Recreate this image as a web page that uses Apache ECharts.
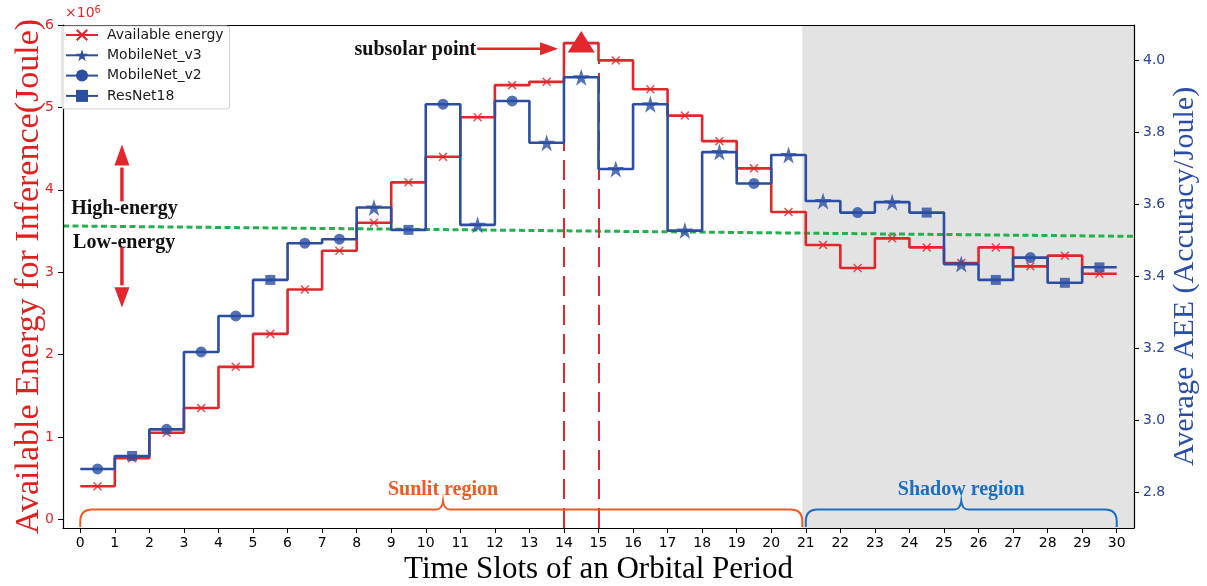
<!DOCTYPE html>
<html><head><meta charset="utf-8">
<script src="https://cdn.jsdelivr.net/npm/echarts@6/dist/echarts.min.js"></script>
<style>html,body{margin:0;padding:0;background:#fff}#c{width:1207px;height:586px}</style>
</head><body><div id="c"></div>
<script>
// ---------------- data ----------------
const slots = [0,1,2,3,4,5,6,7,8,9,10,11,12,13,14,15,16,17,18,19,20,21,22,23,24,25,26,27,28,29];
const xTicks = [0,1,2,3,4,5,6,7,8,9,10,11,12,13,14,15,16,17,18,19,20,21,22,23,24,25,26,27,28,29,30];
const energyTicks = [0,1,2,3,4,5,6];
const aeeTicks = [2.8,3.0,3.2,3.4,3.6,3.8,4.0];
// available energy per slot (x10^6 Joule)
const availableEnergy = [0.40,0.74,1.05,1.35,1.85,2.25,2.79,3.26,3.60,4.09,4.40,4.88,5.27,5.31,5.78,5.57,5.22,4.90,4.59,4.26,3.73,3.33,3.05,3.41,3.30,3.11,3.30,3.07,3.20,2.98];
// average AEE of the chosen model per slot
const averageAEE = [2.864,2.900,2.974,3.189,3.289,3.389,3.491,3.502,3.590,3.528,3.877,3.542,3.886,3.770,3.952,3.697,3.877,3.526,3.744,3.657,3.736,3.608,3.576,3.605,3.576,3.433,3.389,3.451,3.381,3.424];
const chosenModel = ['MobileNet_v2','ResNet18','MobileNet_v2','MobileNet_v2','MobileNet_v2','ResNet18','MobileNet_v2','MobileNet_v2','MobileNet_v3','ResNet18',
  'MobileNet_v2','MobileNet_v3','MobileNet_v2','MobileNet_v3','MobileNet_v3','MobileNet_v3','MobileNet_v3','MobileNet_v3','MobileNet_v3','MobileNet_v2',
  'MobileNet_v3','MobileNet_v3','MobileNet_v2','MobileNet_v3','ResNet18','MobileNet_v3','ResNet18','MobileNet_v2','ResNet18','ResNet18'];
const thresholdAEE = [[-0.5,3.539],[30.5,3.510]];
const regionNames = ['Sunlit region','Shadow region'];
const regionSpans = [[0,20.9,10.5],[21,30,25.5]];
const shadowSpan = [[20.9,30.5]];
const subsolarSlot = 14;

// ---------------- styles ----------------
const RED = '#e2262b', BLUE = '#2b4ea3', GREEN = '#22b14c';
const SERIF = '"Liberation Serif","Times New Roman",serif';
const SANS = '"DejaVu Sans",sans-serif';
const STAR = 'path://M50,0L61.2,34.5L97.6,34.5L68.2,55.9L79.4,90.5L50,69.1L20.6,90.5L31.8,55.9L2.4,34.5L38.8,34.5Z';
const CROSS = 'path://M0,1.2L1.2,0L5,3.8L8.8,0L10,1.2L6.2,5L10,8.8L8.8,10L5,6.2L1.2,10L0,8.8L3.8,5Z';
const models = ['MobileNet_v3','MobileNet_v2','ResNet18'];
const modelSymbol = {'MobileNet_v3':[STAR,17],'MobileNet_v2':['circle',11],'ResNet18':['rect',10]};
const regionColors = ['#f05a24','#1b6ec2'];
const Y0MIN = -0.106, Y0MAX = 6, Y1MIN = 2.7, Y1MAX = 4.097;

function stepData(vals){
  const d = vals.map((v,i)=>[slots[i],v]);
  d.push([slots[slots.length-1]+1, vals[vals.length-1]]);
  return d;
}

const chart = echarts.init(document.getElementById('c'));

const series = [];
// shadow region shading
series.push({type:'custom', name:'_shade', silent:true, z:1, data:shadowSpan, encode:{x:[0,1]},
  renderItem:(params, api)=>{
    const cs = params.coordSys;
    const xa = api.coord([api.value(0),0])[0], xb = api.coord([api.value(1),0])[0];
    return {type:'rect', shape:{x:xa, y:cs.y, width:xb-xa, height:cs.height}, style:{fill:'#e3e3e3'}};
  }});
// threshold line
series.push({type:'line', name:'_thr', yAxisIndex:1, data:thresholdAEE, symbol:'none', silent:true, z:3,
  lineStyle:{color:GREEN, width:3, type:[6,3.5]}});
// available energy step
series.push({type:'line', name:'_energy', data:stepData(availableEnergy), step:'end', symbol:'none', silent:true, z:4,
  lineStyle:{color:RED, width:2.6},
  markLine:{silent:true, symbol:['none','none'], label:{show:false}, lineStyle:{color:RED, width:2, type:[20,9]},
    data:[[{coord:[subsolarSlot,Y0MIN]},{coord:[subsolarSlot,availableEnergy[subsolarSlot]]}],
          [{coord:[subsolarSlot+1,Y0MIN]},{coord:[subsolarSlot+1,availableEnergy[subsolarSlot+1]]}]]}});
// AEE step
series.push({type:'line', name:'_aee', yAxisIndex:1, data:stepData(averageAEE), step:'end', symbol:'none', silent:true, z:5,
  lineStyle:{color:BLUE, width:2.6}});
// markers
series.push({type:'scatter', name:'_energyMarks', data:availableEnergy.map((v,i)=>[slots[i]+0.5,v]), symbol:CROSS, symbolSize:9,
  itemStyle:{color:RED}, silent:true, z:6});
models.forEach(m=>{
  series.push({type:'scatter', name:'_'+m, yAxisIndex:1, silent:true, z:7,
    data:averageAEE.map((v,i)=>[slots[i]+0.5,v,chosenModel[i]]).filter(d=>d[2]===m).map(d=>[d[0],d[1]]),
    symbol:modelSymbol[m][0], symbolSize:modelSymbol[m][1], itemStyle:{color:BLUE}});
});
// legend-only series
series.push({type:'line', name:'Available energy', data:[], symbol:CROSS, itemStyle:{color:RED}, lineStyle:{color:RED, width:2.6}});
models.forEach(m=>{
  series.push({type:'line', name:m, data:[], symbol:modelSymbol[m][0], itemStyle:{color:BLUE}, lineStyle:{color:BLUE, width:2.6}});
});
// region braces
series.push({type:'custom', name:'_braces', silent:true, z:8, data:regionSpans.map((s,i)=>[s[0],s[1],s[2],i]), encode:{x:[0,1,2]},
  renderItem:(params, api)=>{
    const x0 = api.coord([api.value(0),0])[0], x1 = api.coord([api.value(1),0])[0], xm = api.coord([api.value(2),0])[0];
    const cs = params.coordSys; const yb = cs.y + cs.height - 1; const yl = yb - 17.5, yt = yb - 26;
    const col = regionColors[api.value(3)];
    const d = `M${x0},${yb}L${x0},${yl+12}Q${x0},${yl} ${x0+12},${yl}L${xm-7},${yl}Q${xm-1},${yl} ${xm},${yt}Q${xm+1},${yl} ${xm+7},${yl}L${x1-12},${yl}Q${x1},${yl} ${x1},${yl+12}L${x1},${yb}`;
    return {type:'group', children:[
      {type:'path', shape:{pathData:d}, style:{stroke:col, lineWidth:2, fill:null}},
      {type:'text', style:{text:regionNames[params.dataIndex], x:xm, y:yb-37, align:'center', verticalAlign:'middle',
        fill:col, fontFamily:SERIF, fontWeight:'bold', fontSize:20}}
    ]};
  }});
// annotations (data coordinates)
series.push({type:'custom', name:'_notes', silent:true, z:9, data:[[0,0]], encode:{x:0,y:1},
  renderItem:(params, api)=>{
    const P = (x,y)=>api.coord([x,y]);
    const els = [];
    const txt = (s,x,y,align)=>({type:'text', style:{text:s, x:x, y:y, align:align, verticalAlign:'middle', fill:'#111',
      fontFamily:SERIF, fontWeight:'bold', fontSize:20}});
    // subsolar point text + arrow
    const a0 = P(11.49,5.711), a1 = P(13.83,5.711);
    els.push(txt('subsolar point', a0[0]-1, a0[1]+1, 'right'));
    els.push({type:'line', shape:{x1:a0[0], y1:a0[1], x2:a1[0]-14, y2:a1[1]}, style:{stroke:RED, lineWidth:2.6}});
    els.push({type:'polygon', shape:{points:[[a1[0],a1[1]],[a1[0]-18,a1[1]-6.5],[a1[0]-18,a1[1]+6.5]]}, style:{fill:RED}});
    // subsolar triangle
    const t = P(subsolarSlot+0.5, availableEnergy[subsolarSlot]);
    els.push({type:'polygon', shape:{points:[[t[0],t[1]-12],[t[0]-13.5,t[1]+9.5],[t[0]+13.5,t[1]+9.5]]}, style:{fill:RED}});
    // high / low energy
    const h = P(1.28,3.77), l = P(1.27,3.357);
    els.push(txt('High-energy', h[0], h[1], 'center'));
    els.push(txt('Low-energy', l[0], l[1], 'center'));
    const ax = P(1.206,0)[0];
    const u0 = P(1.206,3.859)[1], uB = P(1.206,4.293)[1], uT = P(1.206,4.548)[1];
    els.push({type:'line', shape:{x1:ax, y1:u0, x2:ax, y2:uB+2}, style:{stroke:RED, lineWidth:3.5}});
    els.push({type:'polygon', shape:{points:[[ax,uT],[ax-7.5,uB],[ax+7.5,uB]]}, style:{fill:RED}});
    const d0 = P(1.206,3.30)[1], dB = P(1.206,2.815)[1], dT = P(1.206,2.571)[1];
    els.push({type:'line', shape:{x1:ax, y1:d0, x2:ax, y2:dB-2}, style:{stroke:RED, lineWidth:3.5}});
    els.push({type:'polygon', shape:{points:[[ax,dT],[ax-7.5,dB],[ax+7.5,dB]]}, style:{fill:RED}});
    return {type:'group', children:els};
  }});

const axLine = {show:true, onZero:false, lineStyle:{color:'#000', width:1.2}};
chart.setOption({
  animation:false,
  backgroundColor:'#fff',
  grid:{left:63, right:73, top:25, bottom:58, outerBoundsMode:'none', containLabel:false},
  legend:{orient:'vertical', left:62, top:26, z:20, itemWidth:32, itemHeight:15, itemGap:6.3, padding:[2,6,6,3],
    backgroundColor:'rgba(255,255,255,0.9)', borderColor:'#cfcfcf', borderWidth:1, borderRadius:3,
    textStyle:{fontFamily:SANS, fontSize:14, color:'#1a1a1a', padding:[0,0,0,4]},
    data:['Available energy','MobileNet_v3','MobileNet_v2','ResNet18'], selectedMode:false},
  xAxis:[
    {type:'value', min:-0.5, max:30.5, z:10, axisLine:axLine,
     axisTick:{show:true, length:5, lineStyle:{color:'#000'}, customValues:xTicks},
     axisLabel:{customValues:xTicks, color:'#000', fontFamily:SANS, fontSize:14, margin:8},
     splitLine:{show:false},
     name:'Time Slots of an Orbital Period', nameLocation:'middle', nameGap:26, nameMoveOverlap:false,
     nameTextStyle:{fontFamily:SERIF, fontSize:31, color:'#000'}},
    {type:'value', position:'top', min:-0.5, max:30.5, z:10, axisLine:axLine, axisTick:{show:false}, axisLabel:{show:false}, splitLine:{show:false}}
  ],
  yAxis:[
    {type:'value', position:'left', min:Y0MIN, max:Y0MAX, z:10, axisLine:axLine,
     axisTick:{show:true, length:5, lineStyle:{color:'#000'}, customValues:energyTicks},
     axisLabel:{customValues:energyTicks, color:'#e3262b', fontFamily:SANS, fontSize:14, margin:9},
     splitLine:{show:false},
     name:'Available Energy for Inference(Joule)', nameLocation:'middle', nameRotate:90, nameGap:17, nameMoveOverlap:false,
     nameTextStyle:{fontFamily:SERIF, fontSize:34, color:'#e0201f'}},
    {type:'value', position:'right', min:Y1MIN, max:Y1MAX, z:10, axisLine:axLine,
     axisTick:{show:true, length:5, lineStyle:{color:'#000'}, customValues:aeeTicks},
     axisLabel:{customValues:aeeTicks, formatter:v=>Number(v).toFixed(1), color:'#2743a0', fontFamily:SANS, fontSize:14, margin:9},
     splitLine:{show:false},
     name:'Average AEE (Accuracy/Joule)', nameLocation:'middle', nameRotate:90, nameGap:36, nameMoveOverlap:false,
     nameTextStyle:{fontFamily:SERIF, fontSize:30, color:'#2a4ea8'}}
  ],
  graphic:[{type:'text', left:65, top:5, z:20, style:{text:'{a|×10}{b|6}', fill:'#e3262b',
    rich:{a:{fontFamily:SANS, fontSize:14, fill:'#e3262b'}, b:{fontFamily:SANS, fontSize:10, fill:'#e3262b', padding:[0,0,7,0]}}}}],
  series:series
});
</script></body></html>
